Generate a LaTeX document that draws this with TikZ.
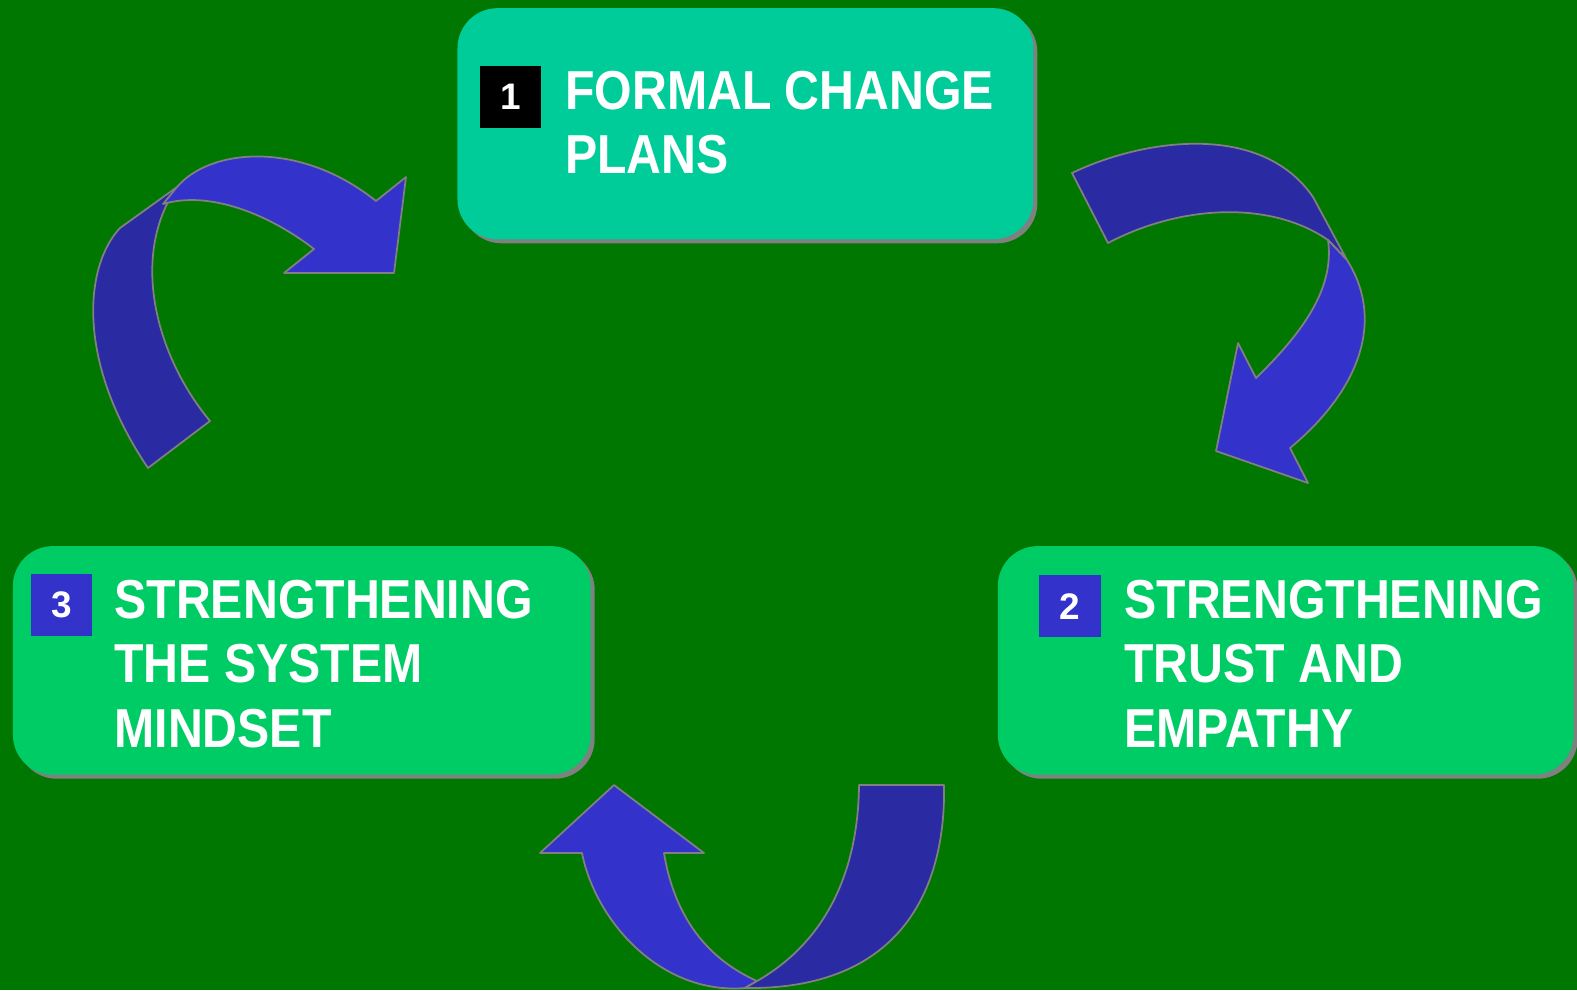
\documentclass[tikz,border=0pt]{standalone}
\usepackage{fontspec}
\setmainfont{Liberation Sans}
\newfontfamily\stagefont[FakeStretch=0.88]{Liberation Sans}
\usetikzlibrary{shadows}

\definecolor{bggreen}{RGB}{0,119,0}
\definecolor{tealbox}{RGB}{0,204,153}
\definecolor{greenbox}{RGB}{0,204,102}
\definecolor{arrowfront}{RGB}{51,51,204}
\definecolor{arrowback}{RGB}{42,42,163}
\definecolor{edgegray}{RGB}{128,128,128}

\tikzset{
  stagebox/.style={rounded corners=0.4cm, inner sep=0pt,
    drop shadow={shadow xshift=0.04cm, shadow yshift=-0.04cm, fill=edgegray, opacity=1}},
  numbox/.style={minimum width=0.615cm, minimum height=0.615cm, inner sep=0pt,
    text=white, font=\bfseries\fontsize{10.5}{12}\selectfont},
  stagetext/.style={anchor=north west, inner sep=0pt, align=left, text=white,
    font=\stagefont\bfseries\fontsize{15.6}{18.3}\selectfont},
  bandfront/.style={fill=arrowfront, draw=edgegray, line width=0.5pt, line join=round},
  bandback/.style={fill=arrowback, draw=edgegray, line width=0.5pt, line join=round},
}

\begin{document}
\begin{tikzpicture}[x=0.01cm, y=-0.01cm]

    % Background, also fixes the page size (1577 x 990 units)
    \path[use as bounding box, fill=bggreen] (0,0) rectangle (1577,990);

    % 1. The three stage boxes
    \node[stagebox, fill=tealbox, minimum width=5.755cm, minimum height=2.31cm] (plans) at (745.4,123.7) {};
    \node[stagebox, fill=greenbox, minimum width=5.755cm, minimum height=2.285cm] (trust) at (1285.7,660.4) {};
    \node[stagebox, fill=greenbox, minimum width=5.775cm, minimum height=2.285cm] (mindset) at (301.8,660.4) {};

    % 2. Number squares
    \node[numbox, fill=black] (plansnum) at (510.5,97.1) {1};
    \node[numbox, fill=arrowfront] (trustnum) at (1069.9,606.1) {2};
    \node[numbox, fill=arrowfront] (mindsetnum) at (61.4,605.1) {3};

    % 3. Box texts
    \node[stagetext] (planstext) at (564.4,70.4) {FORMAL CHANGE\\PLANS};
    \node[stagetext] (trusttext) at (1123.7,579.5) {STRENGTHENING\\TRUST AND\\EMPATHY};
    \node[stagetext] (mindsettext) at (113.7,579.5) {STRENGTHENING\\THE SYSTEM\\MINDSET};

    % 4. Curved block arrows: back part first, then front part
    % from 3 to 1
    \draw[bandback] (177,187) -- (120,228)
        .. controls (85,265) and (75,360) .. (148,468)
        -- (210,421)
        .. controls (155,355) and (130,255) .. (177,187)
        -- cycle;
    \draw[bandfront] (163,204) -- (177,187)
        .. controls (210,148) and (300,140) .. (376,201)
        -- (406,177) -- (394,273) -- (284,273) -- (314,249)
        .. controls (270,215) and (210,190) .. (163,204)
        -- cycle;

    % from 1 to 2
    \draw[bandback] (1072,173)
        .. controls (1140,140) and (1260,120) .. (1313,197)
        -- (1347,260) -- (1328,240)
        .. controls (1270,200) and (1180,205) .. (1108,243)
        -- cycle;
    \draw[bandfront] (1328,240) -- (1347,260)
        .. controls (1385,320) and (1360,390) .. (1290,448)
        -- (1308,483) -- (1216,451) -- (1238,343) -- (1256,378)
        .. controls (1300,335) and (1335,290) .. (1328,240)
        -- cycle;

    % from 2 to 3
    \draw[bandfront] (614,785) -- (704,853) -- (664,853)
        .. controls (675,920) and (710,960) .. (757,981)
        -- (745,988)
        .. controls (660,995) and (595,920) .. (582,853)
        -- (540,853) -- cycle;
    \draw[bandback] (859,785) -- (944,785)
        .. controls (946,890) and (900,990) .. (745,988)
        -- (757,981)
        .. controls (820,945) and (858,880) .. (859,785)
        -- cycle;

\end{tikzpicture}
\end{document}
